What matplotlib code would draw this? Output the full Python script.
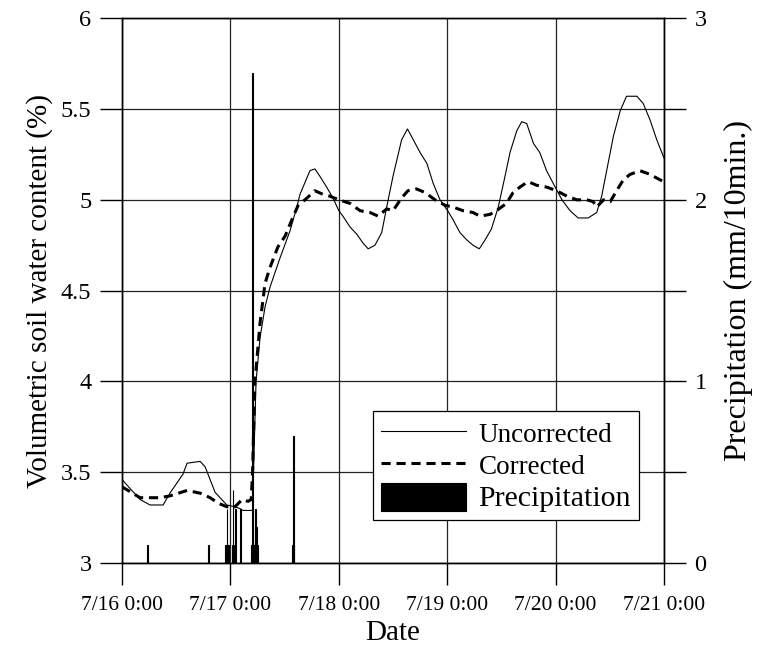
# Soil moisture vs. precipitation, 7/16 - 7/21

import matplotlib
matplotlib.use('Agg')
import matplotlib.pyplot as plt
from matplotlib.ticker import MultipleLocator

plt.rcParams['font.family'] = ['Liberation Serif', 'DejaVu Serif']

# hours since 7/16 0:00
unc_hours = [0, 1.8, 4.0, 6.2, 9.1, 10.6, 13.5, 14.4, 17.3, 18.4,
             19.5, 20.6, 21.7, 23.2, 25.0, 26.1, 26.8, 28.3, 28.9, 29.1,
             29.67, 30.55, 31.66, 32.77, 34.98, 37.2, 38.7, 39.4, 41.6, 42.7,
             43.8, 45.3, 46.7, 48.0, 48.9, 50.5, 52.0, 53.4, 54.5, 56.0,
             57.5, 58.6, 60.0, 61.9, 63.2, 64.5, 66.0, 67.5, 68.9, 70.4,
             72.1, 73.3, 74.8, 76.3, 77.7, 79.1, 80.4, 81.8, 83.3, 84.8,
             85.9, 87.4, 88.5, 89.6, 91.1, 92.5, 94.0, 95.9, 97.4, 99.2,
             101.0, 103.2, 105.1, 106.2, 107.3, 108.8, 110.3, 111.7, 114.0, 115.4,
             116.9, 118.4, 120.0]
unc_vwc = [3.46, 3.41, 3.35, 3.32, 3.32, 3.385, 3.49, 3.55, 3.56, 3.53,
           3.46, 3.39, 3.36, 3.32, 3.31, 3.30, 3.29, 3.29, 3.29, 3.5,
           4.0, 4.24, 4.41, 4.52, 4.68, 4.83, 4.96, 5.03, 5.16, 5.17,
           5.13, 5.07, 5.01, 4.94, 4.91, 4.85, 4.81, 4.76, 4.73, 4.75,
           4.82, 4.96, 5.13, 5.33, 5.39, 5.33, 5.26, 5.2, 5.09, 5.0,
           4.94, 4.89, 4.82, 4.78, 4.75, 4.73, 4.78, 4.84, 4.96, 5.13,
           5.26, 5.38, 5.43, 5.42, 5.31, 5.26, 5.16, 5.07, 5.0, 4.94,
           4.9, 4.9, 4.93, 5.02, 5.16, 5.35, 5.49, 5.57, 5.57, 5.53,
           5.44, 5.33, 5.23]

cor_hours = [0, 4.0, 8.4, 10.6, 14.4, 17.3, 19.5, 21.3, 23.2, 25.0,
             26.6, 27.9, 28.6, 28.9, 29.4, 30.55, 31.66, 32.8, 34.5, 36.1,
             37.6, 39.0, 40.5, 42.7, 44.5, 46.0, 48.0, 50.5, 52.7, 54.9,
             56.7, 58.6, 60.0, 61.9, 63.3, 65.2, 67.1, 69.3, 71.5, 73.3,
             75.5, 77.7, 79.3, 81.5, 82.9, 85.1, 86.6, 88.1, 89.9, 91.8,
             94.0, 96.2, 98.5, 100.7, 102.9, 104.3, 105.1, 106.6, 108.1, 109.5,
             111.0, 112.5, 114.7, 116.9, 119.1, 120.0]
cor_vwc = [3.42, 3.36, 3.36, 3.37, 3.40, 3.385, 3.36, 3.33, 3.31, 3.31,
           3.35, 3.34, 3.35, 3.5, 3.99, 4.32, 4.54, 4.63, 4.74, 4.80,
           4.89, 4.97, 5.0, 5.05, 5.03, 5.02, 5.0, 4.98, 4.94, 4.93,
           4.91, 4.95, 4.94, 5.01, 5.05, 5.06, 5.04, 5.0, 4.97, 4.96,
           4.94, 4.93, 4.91, 4.92, 4.94, 4.98, 5.04, 5.07, 5.10, 5.08,
           5.07, 5.05, 5.02, 5.0, 5.0, 4.99, 4.96, 5.0, 4.99, 5.05,
           5.11, 5.14, 5.16, 5.14, 5.11, 5.10]

# 10-min rainfall (bin start, hours since 7/16 0:00)
rain_hours = [5.5, 19.0, 22.83, 23.0, 23.17, 23.33, 23.5, 24.33, 24.5, 24.67,
              25.0, 26.17, 28.5, 28.67, 28.83, 29.0, 29.17, 29.33, 29.5, 29.67,
              29.83, 37.67, 37.83, 38.0]
rain_mm = [0.1, 0.1, 0.1, 0.1, 0.3, 0.1, 0.1, 0.1, 0.4, 0.1,
           0.3, 0.3, 0.1, 0.1, 2.7, 0.1, 0.1, 0.2, 0.3, 0.2,
           0.1, 0.1, 0.7, 0.1]

date_ticks = [0, 24, 48, 72, 96, 120]
date_labels = ['7/16 0:00', '7/17 0:00', '7/18 0:00', '7/19 0:00', '7/20 0:00', '7/21 0:00']
vwc_ticks = [3, 3.5, 4, 4.5, 5, 5.5, 6]
vwc_labels = ['3', '3.5', '4', '4.5', '5', '5.5', '6']
rain_ticks = [0, 1, 2, 3]
rain_labels = ['0', '1', '2', '3']

fig = plt.figure(figsize=(7.58, 6.48), dpi=100)
ax = fig.add_axes([0.161, 0.131, 0.715, 0.841])
ax2 = ax.twinx()

l1, = ax.plot(unc_hours, unc_vwc, color='black', lw=0.8, label='Uncorrected')
l2, = ax.plot(cor_hours, cor_vwc, color='black', lw=2.2, linestyle=(0, (3.0, 1.9)),
              label='Corrected')
bars = ax2.bar(rain_hours, rain_mm, width=1/6, align='edge', color='black',
               edgecolor='black', linewidth=0.8, label='Precipitation')

ax.set_xlim(0, 120)
ax.set_ylim(3, 6)
ax2.set_ylim(0, 3)

ax.set_xticks(date_ticks)
ax.set_xticklabels(date_labels, fontsize=15.5)
ax.set_yticks(vwc_ticks)
ax.set_yticklabels(vwc_labels, fontsize=17.5)

ax2.set_yticks(rain_ticks)
ax2.set_yticklabels(rain_labels, fontsize=17.5)
ax2.yaxis.set_minor_locator(MultipleLocator(0.5))

for a in (ax, ax2):
    a.tick_params(which='both', direction='out', length=16, width=1, pad=6)
    for s in a.spines.values():
        s.set_linewidth(1)
ax.tick_params(axis='x', pad=8)

ax.grid(True, color='#222222', lw=0.9)

ax.set_xlabel('Date', fontsize=21, labelpad=3)
ax.set_ylabel('Volumetric soil water content (%)', fontsize=21, labelpad=6)
ax2.set_ylabel('Precipitation (mm/10min.)', fontsize=23, labelpad=12)

leg = ax2.legend([l1, l2, bars], ['Uncorrected', 'Corrected', 'Precipitation'],
                 loc='lower right', bbox_to_anchor=(0.954, 0.079), borderaxespad=0,
                 fontsize=19.5, fancybox=False, framealpha=1, edgecolor='black',
                 handlelength=3.15, handleheight=1.2, handletextpad=0.45,
                 labelspacing=0.1, borderpad=0.3)
leg.get_frame().set_linewidth(0.9)
leg.get_texts()[2].set_fontsize(21.5)

fig.savefig('out.png', dpi=100)
